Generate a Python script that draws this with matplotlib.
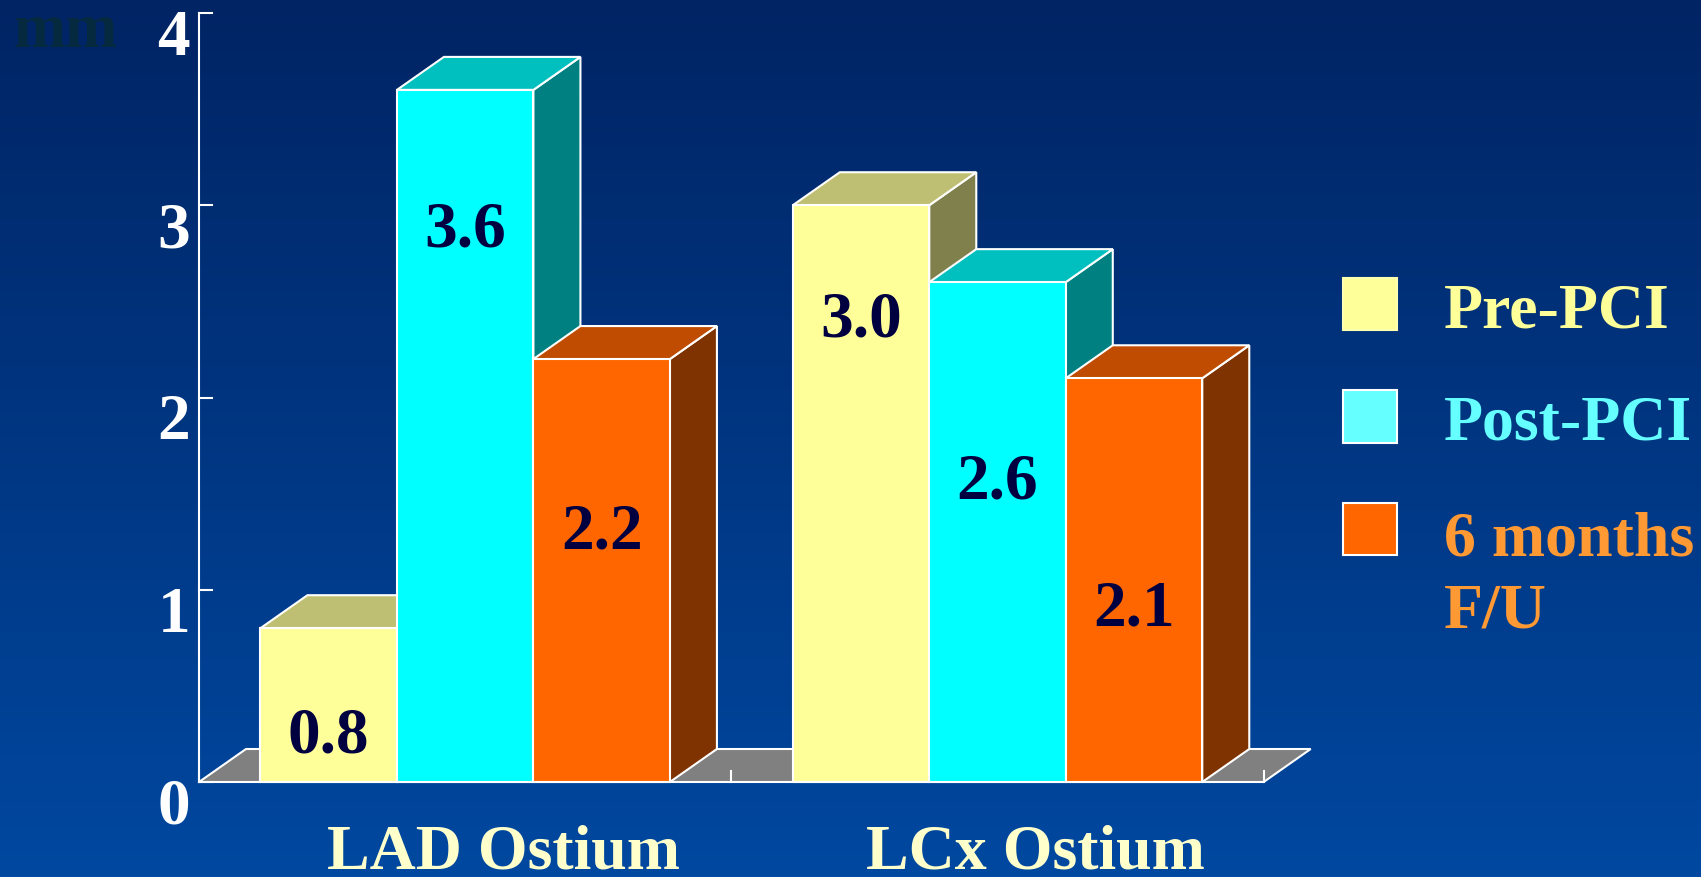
import numpy as np
import matplotlib
matplotlib.use("Agg")
import matplotlib.pyplot as plt
from matplotlib.patches import Polygon, Rectangle
from matplotlib.colors import LinearSegmentedColormap

plt.rcParams["font.family"] = ["Liberation Serif", "DejaVu Serif"]
plt.rcParams["font.weight"] = "bold"

# data
groups = ["LAD Ostium", "LCx Ostium"]
series = ["Pre-PCI", "Post-PCI", "6 months\nF/U"]
values = [[0.8, 3.6, 2.2],
          [3.0, 2.6, 2.1]]
yticks = [0, 1, 2, 3, 4]

# where the value text sits inside each bar (baseline, mm)
label_base = [[0.16, 2.79, 1.22],
              [2.32, 1.48, 0.82]]

# face colours per series: front, top, side
front_c = ["#FFFF99", "#00FFFF", "#FF6600"]
top_c = ["#BFBF73", "#00BFBF", "#BF4C00"]
side_c = ["#80804D", "#008080", "#7F3300"]
legend_fill = ["#FFFF99", "#66FFFF", "#FF6600"]
legend_text = ["#FFFF99", "#66FFFF", "#FF9933"]

W, H, DPI = 1701, 878, 100
fig = plt.figure(figsize=(W / DPI, H / DPI), dpi=DPI)
ax = fig.add_axes([0, 0, 1, 1])

# scale: x in bar widths, y in mm
px_x, px_y = 136.5, 192.25
x0_px, y0_px = 199, 783
ax.set_xlim(-x0_px / px_x, (W - x0_px) / px_x)
ax.set_ylim(-(H - y0_px) / px_y, y0_px / px_y)
ax.axis("off")

# background gradient
cmap = LinearSegmentedColormap.from_list("bg", ["#0048A0", "#002464"])
grad = np.linspace(0, 1, 256).reshape(-1, 1)
ax.imshow(grad, cmap=cmap, origin="lower", aspect="auto",
          extent=[*ax.get_xlim(), *ax.get_ylim()], zorder=0)

dx, dy = 47 / px_x, 33 / px_y      # depth offset of the 3-D bars
pad, gw = 0.45, 3.9                # left margin, group width (bar units)
ew = dict(edgecolor="white", linewidth=1.5, joinstyle="miter")

# floor
floor_end = len(groups) * gw
ax.add_patch(Polygon([(0, 0), (floor_end, 0), (floor_end + dx, dy), (dx, dy)],
                     facecolor="#808080", zorder=1, **ew))
for b in np.arange(len(groups) + 1) * gw:
    ax.plot([b, b], [0, 11 / px_y], color="white", lw=1.5, zorder=1.5)

z = 2
for g, vals in enumerate(values):
    for i, v in enumerate(vals):
        x = pad + g * gw + i
        side = [(x + 1, 0), (x + 1 + dx, dy), (x + 1 + dx, v + dy), (x + 1, v)]
        top = [(x, v), (x + 1, v), (x + 1 + dx, v + dy), (x + dx, v + dy)]
        front = [(x, 0), (x + 1, 0), (x + 1, v), (x, v)]
        ax.add_patch(Polygon(side, facecolor=side_c[i], zorder=z, **ew))
        ax.add_patch(Polygon(top, facecolor=top_c[i], zorder=z, **ew))
        ax.add_patch(Polygon(front, facecolor=front_c[i], zorder=z, **ew))
        ax.text(x + 0.5, label_base[g][i], f"{v:.1f}", ha="center",
                va="baseline", fontsize=47, color="#000040", zorder=z + 0.5)
        z += 1
    ax.text(pad + g * gw + 1.5 + 0.28, -86 / px_y, groups[g], ha="center",
            va="baseline", fontsize=46, color="#FFFFCC")

# y axis
ax.plot([0, 0], [0, yticks[-1]], color="white", lw=1.5, zorder=20)
for t in yticks:
    ax.plot([0, 13 / px_x], [t, t], color="white", lw=1.5, zorder=20)
    ax.text(-9 / px_x, t - 41 / px_y, str(t), ha="right", va="baseline",
            fontsize=47, color="white")

fig.text(13 / W, 1 - 47 / H, "mm", ha="left", va="baseline",
         fontsize=45, color="#05293F")

# legend
for k, name in enumerate(series):
    top_px = 279 + k * 112.5
    fig.add_artist(Rectangle((1343 / W, 1 - (top_px + 52) / H), 54 / W, 52 / H,
                             transform=fig.transFigure, facecolor=legend_fill[k],
                             edgecolor="white" if k else "#FFFFB0", linewidth=1.5))
    base_px = top_px + 48 + 75 * name.count("\n")
    fig.text(1444 / W, 1 - base_px / H, name, ha="left", va="baseline",
             fontsize=46, color=legend_text[k], linespacing=1.31)

fig.savefig("out.png", dpi=DPI)
